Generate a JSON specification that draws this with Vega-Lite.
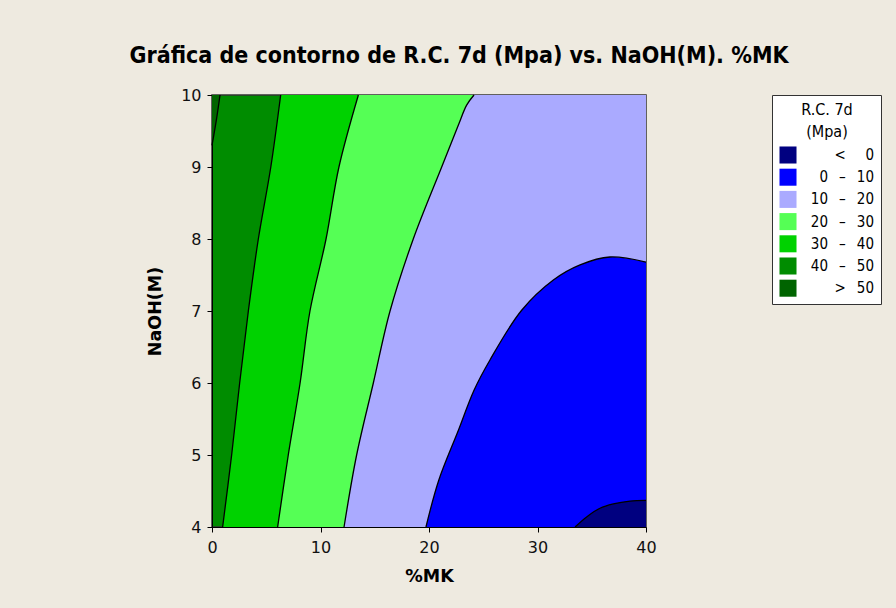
{
  "$schema": "https://vega.github.io/schema/vega-lite/v6.json",
  "width": 434,
  "height": 432,
  "autosize": {"type": "none"},
  "padding": {"left": 212, "top": 95, "right": 250, "bottom": 81},
  "background": "#EEEAE0",
  "title": {
    "text": "Gráfica de contorno de R.C. 7d (Mpa) vs. NaOH(M). %MK",
    "font": "DejaVu Sans Condensed",
    "fontSize": 23,
    "fontWeight": "bold",
    "color": "#000000",
    "anchor": "middle",
    "frame": "group",
    "baseline": "alphabetic",
    "offset": 1,
    "dx": 30
  },
  "data": {
    "values": [
      {"c": 50, "y": 9.3, "x": 0.0},
      {"c": 50, "y": 9.68, "x": 0.43},
      {"c": 50, "y": 10.0, "x": 0.74},

      {"c": 40, "y": 4.0, "x": 0.98},
      {"c": 40, "y": 5.0, "x": 1.81},
      {"c": 40, "y": 6.0, "x": 2.55},
      {"c": 40, "y": 7.0, "x": 3.35},
      {"c": 40, "y": 8.0, "x": 4.27},
      {"c": 40, "y": 9.0, "x": 5.42},
      {"c": 40, "y": 10.0, "x": 6.33},

      {"c": 30, "y": 4.0, "x": 6.05},
      {"c": 30, "y": 5.0, "x": 7.03},
      {"c": 30, "y": 6.0, "x": 8.12},
      {"c": 30, "y": 7.0, "x": 9.03},
      {"c": 30, "y": 8.0, "x": 10.51},
      {"c": 30, "y": 9.0, "x": 11.7},
      {"c": 30, "y": 10.0, "x": 13.49},

      {"c": 20, "y": 4.0, "x": 12.17},
      {"c": 20, "y": 5.0, "x": 13.33},
      {"c": 20, "y": 6.0, "x": 14.87},
      {"c": 20, "y": 7.0, "x": 16.41},
      {"c": 20, "y": 8.0, "x": 18.55},
      {"c": 20, "y": 9.0, "x": 21.17},
      {"c": 20, "y": 9.58, "x": 22.7},
      {"c": 20, "y": 9.86, "x": 23.47},
      {"c": 20, "y": 10.0, "x": 24.15},

      {"c": 10, "x": 19.72, "y": 4.0},
      {"c": 10, "x": 20.9, "y": 4.65},
      {"c": 10, "x": 22.7, "y": 5.34},
      {"c": 10, "x": 24.15, "y": 5.9},
      {"c": 10, "x": 25.62, "y": 6.32},
      {"c": 10, "x": 28.54, "y": 7.01},
      {"c": 10, "x": 31.46, "y": 7.43},
      {"c": 10, "x": 33.92, "y": 7.64},
      {"c": 10, "x": 36.68, "y": 7.75},
      {"c": 10, "x": 40.0, "y": 7.68},

      {"c": 0, "x": 33.46, "y": 4.0},
      {"c": 0, "x": 34.53, "y": 4.14},
      {"c": 0, "x": 35.76, "y": 4.26},
      {"c": 0, "x": 36.99, "y": 4.32},
      {"c": 0, "x": 38.53, "y": 4.36},
      {"c": 0, "x": 40.0, "y": 4.37}
    ]
  },
  "config": {
    "view": {"fill": "#008C00", "stroke": "#333333", "strokeWidth": 1.5},
    "axis": {
      "grid": false,
      "domainColor": "#000000",
      "tickColor": "#000000",
      "tickSize": 5,
      "labelFont": "DejaVu Sans",
      "labelFontSize": 16,
      "labelColor": "#111111",
      "labelFlush": false,
      "format": "d",
      "titleFont": "DejaVu Sans",
      "titleFontSize": 17.5,
      "titleFontWeight": "bold",
      "titleColor": "#000000"
    }
  },
  "layer": [
    {
      "transform": [{"filter": "datum.c == 50"}],
      "mark": {"type": "area", "orient": "horizontal", "opacity": 1, "interpolate": "catmull-rom"},
      "encoding": {
        "y": {"field": "y", "type": "quantitative"},
        "x": {"field": "x", "type": "quantitative"},
        "x2": {"datum": 0},
        "color": {
          "datum": "> 50",
          "scale": {
            "domain": ["< 0", "0 – 10", "10 – 20", "20 – 30", "30 – 40", "40 – 50", "> 50"],
            "range": ["#000080", "#0000FF", "#AAAAFF", "#55FF55", "#00D200", "#008C00", "#006400"]
          },
          "legend": {
            "title": ["R.C. 7d", "(Mpa)"],
            "orient": "right",
            "offset": 123,
            "titleFont": "DejaVu Sans Condensed",
            "titleFontSize": 16,
            "titleFontWeight": "normal",
            "titleColor": "#000000",
            "titleAnchor": "middle",
            "titleAlign": "center",
            "titlePadding": 6,
            "titleLineHeight": 22,
            "labelFont": "DejaVu Sans Condensed",
            "labelFontSize": 15,
            "labelColor": "#000000",
            "labelAlign": "right",
            "labelOffset": 77,
            "labelExpr": "datum.label == '< 0' ? '<\u2002\u00a0\u20070' : (datum.label == '> 50' ? '>\u2002\u00a050' : replace(datum.label, ' – ', '\u2002\u00a0–\u2002\u00a0'))",
            "symbolType": "square",
            "symbolSize": 290,
            "symbolStrokeWidth": 0,
            "symbolOpacity": 1,
            "rowPadding": 4.2,
            "padding": 7,
            "strokeColor": "#333333",
            "fillColor": "#FFFFFF"
          }
        }
      }
    },
    {
      "transform": [{"filter": "datum.c == 40"}],
      "mark": {"type": "area", "orient": "horizontal", "opacity": 1, "interpolate": "catmull-rom"},
      "encoding": {
        "y": {"field": "y", "type": "quantitative"},
        "x": {"field": "x", "type": "quantitative"},
        "x2": {"datum": 40},
        "color": {"datum": "30 – 40"}
      }
    },
    {
      "transform": [{"filter": "datum.c == 30"}],
      "mark": {"type": "area", "orient": "horizontal", "opacity": 1, "interpolate": "catmull-rom"},
      "encoding": {
        "y": {"field": "y", "type": "quantitative"},
        "x": {"field": "x", "type": "quantitative"},
        "x2": {"datum": 40},
        "color": {"datum": "20 – 30"}
      }
    },
    {
      "transform": [{"filter": "datum.c == 20"}],
      "mark": {"type": "area", "orient": "horizontal", "opacity": 1, "interpolate": "catmull-rom"},
      "encoding": {
        "y": {"field": "y", "type": "quantitative"},
        "x": {"field": "x", "type": "quantitative"},
        "x2": {"datum": 40},
        "color": {"datum": "10 – 20"}
      }
    },
    {
      "transform": [{"filter": "datum.c == 10"}],
      "mark": {"type": "area", "orient": "vertical", "opacity": 1, "interpolate": "catmull-rom"},
      "encoding": {
        "x": {"field": "x", "type": "quantitative"},
        "y": {"field": "y", "type": "quantitative"},
        "y2": {"datum": 4},
        "color": {"datum": "0 – 10"}
      }
    },
    {
      "transform": [{"filter": "datum.c == 0"}],
      "mark": {"type": "area", "orient": "vertical", "opacity": 1, "interpolate": "catmull-rom"},
      "encoding": {
        "x": {"field": "x", "type": "quantitative"},
        "y": {"field": "y", "type": "quantitative"},
        "y2": {"datum": 4},
        "color": {"datum": "< 0"}
      }
    },
    {
      "mark": {"type": "line", "color": "#000000", "strokeWidth": 1.3, "interpolate": "catmull-rom"},
      "encoding": {
        "x": {
          "field": "x",
          "type": "quantitative",
          "scale": {"domain": [0, 40], "nice": false, "zero": false},
          "axis": {"values": [0, 10, 20, 30, 40], "title": "%MK", "labelPadding": 7, "titlePadding": 12}
        },
        "y": {
          "field": "y",
          "type": "quantitative",
          "scale": {"domain": [4, 10], "nice": false, "zero": false},
          "axis": {"values": [4, 5, 6, 7, 8, 9, 10], "title": "NaOH(M)", "labelPadding": 6, "titlePadding": 16}
        },
        "detail": {"field": "c", "type": "nominal"}
      }
    }
  ],
  "resolve": {"scale": {"color": "shared"}}
}
